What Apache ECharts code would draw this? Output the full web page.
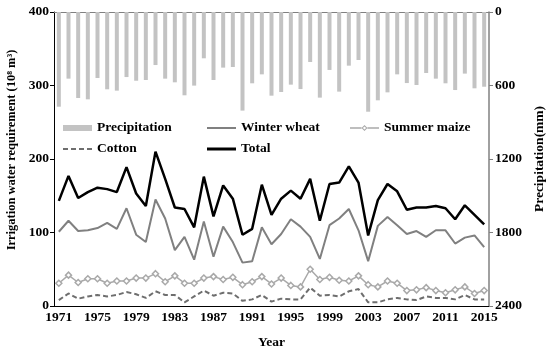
<!DOCTYPE html>
<html>
<head>
<meta charset="utf-8">
<script src="https://cdn.jsdelivr.net/npm/echarts@6/dist/echarts.min.js"></script>
<style>
html,body{margin:0;padding:0;background:#fff;}
#chart{width:550px;height:351px;}
</style>
</head>
<body>
<div id="chart"></div>
<script>
var years = [];
for (var y = 1971; y <= 2015; y++) years.push(String(y));

var precipitation = [773,544,702,713,539,631,642,531,561,555,433,544,574,680,601,378,555,454,449,805,582,509,683,653,593,
  629,408,699,473,650,438,392,814,721,656,509,580,596,498,544,582,637,503,623,610];
var winterWheat = [101,116,102,103,106,113,105,133,97,87,145,119,76,94,63,115,67,108,87,59,61,107,84,98,118,
  108,94,64,110,119,132,103,61,109,121,110,98,102,94,103,103,85,93,96,80];
var summerMaize = [31,42,32,37,37,31,34,34,38,38,44,33,41,31,31,38,40,36,39,29,33,40,30,38,28,
  26,50,36,39,35,34,41,29,26,34,31,21,22,25,21,18,22,26,17,21];
var cotton = [8,17,10,13,15,13,15,19,16,11,20,15,15,5,13,21,14,18,17,7,9,15,6,10,9,
  9,25,14,15,13,20,23,5,5,9,11,9,8,13,11,11,9,15,9,9];
var total = [143,177,147,155,161,159,155,189,153,136,210,173,134,132,107,176,122,164,146,97,105,165,124,146,157,
  146,173,116,166,168,190,168,96,144,166,156,131,134,134,136,133,118,137,124,111];
var leftTicks = [0,100,200,300,400];
var rightTicks = [0,600,1200,1800,2400];

var FONT = '"Liberation Serif", "Times New Roman", serif';
var txt = {fontFamily: FONT, fontWeight: 'bold', fontSize: 13.5, color: '#000'};
var chart = echarts.init(document.getElementById('chart'), null, {renderer: 'canvas'});

var ICON_RECT = 'path://M0,0H29V6H0Z';
var ICON_LINE2 = 'path://M0,0H29V2H0Z';
var ICON_LINE3 = 'path://M0,0H29V3H0Z';
var ICON_DASH = 'path://M0,0H5V2H0Z M8,0H13V2H8Z M16,0H21V2H16Z M24,0H29V2H24Z';
var ICON_MAIZE = 'path://M0,-0.75H11.5V0.75H0Z M17.5,-0.75H29V0.75H17.5Z M14.5,-3L17.5,0L14.5,3L11.5,0Z M14.5,-1.6L12.9,0L14.5,1.6L16.1,0Z';

function leg(name, left, top, icon, color) {
  var item = {name: name, icon: icon};
  if (color) item.itemStyle = {color: color, borderWidth: 0};
  return {
    data: [item], left: left, top: top, itemWidth: 29, itemHeight: 14, itemGap: 0,
    textStyle: txt, padding: 0, selectedMode: false, symbolKeepAspect: true
  };
}

var tickFont = {fontFamily: FONT, fontWeight: 'bold', fontSize: 13.5, color: '#000'};

chart.setOption({
  animation: false,
  backgroundColor: '#fff',
  grid: {left: 54, right: 61, top: 12, bottom: 45, containLabel: false, outerBoundsMode: 'none'},
  legend: [
    leg('Precipitation', 63, 121, ICON_RECT),
    leg('Winter wheat', 207, 121, ICON_LINE2),
    leg('Summer maize', 350, 121, ICON_MAIZE, '#a9a9a9'),
    leg('Cotton', 63, 142, ICON_DASH),
    leg('Total', 207, 142, ICON_LINE3)
  ],
  xAxis: [{
    type: 'category', data: years, boundaryGap: true, position: 'bottom',
    name: 'Year', nameLocation: 'middle', nameGap: 30,
    nameTextStyle: {fontFamily: FONT, fontWeight: 'bold', fontSize: 13.5, color: '#000'},
    axisLine: {lineStyle: {color: '#000', width: 1}},
    axisTick: {interval: 3, length: 4, lineStyle: {color: '#000'}},
    axisLabel: Object.assign({interval: 3, margin: 5}, tickFont)
  }, {
    type: 'category', data: years, position: 'top',
    axisLine: {lineStyle: {color: '#808080', width: 1}},
    axisTick: {show: false}, axisLabel: {show: false}
  }],
  yAxis: [{
    type: 'value', min: 0, max: 400, interval: 100, position: 'left',
    name: 'Irrigation water requirement (10\u2078 m\u00B3)', nameLocation: 'middle', nameGap: 24,
    nameTextStyle: {fontFamily: FONT, fontWeight: 'bold', fontSize: 12.5, color: '#000', padding: [0, 0, 0, 18]},
    axisLine: {show: true, lineStyle: {color: '#000'}},
    axisTick: {show: true, length: 4, lineStyle: {color: '#000'}},
    axisLabel: Object.assign({margin: 5, formatter: function (v) { return String(v); }}, tickFont),
    splitLine: {show: false}
  }, {
    type: 'value', min: 0, max: 2400, interval: 600, inverse: true, position: 'right',
    name: 'Precipitation(mm)', nameLocation: 'middle', nameGap: 43,
    nameTextStyle: {fontFamily: FONT, fontWeight: 'bold', fontSize: 13.5, color: '#000'},
    axisLine: {show: true, lineStyle: {color: '#808080', width: 1.5}},
    axisTick: {show: true, length: 4, lineStyle: {color: '#808080'}},
    axisLabel: Object.assign({margin: 6, formatter: function (v) { return String(v); }}, tickFont),
    splitLine: {show: false}
  }],
  series: [{
    name: 'Precipitation', type: 'bar', xAxisIndex: 0, yAxisIndex: 1, data: precipitation,
    barWidth: 4, itemStyle: {color: '#c3c3c3'}, z: 1
  }, {
    name: 'Winter wheat', type: 'line', yAxisIndex: 0, data: winterWheat, symbol: 'none',
    lineStyle: {color: '#808080', width: 2}, itemStyle: {color: '#808080'}, z: 3
  }, {
    name: 'Summer maize', type: 'line', yAxisIndex: 0, data: summerMaize, symbol: 'diamond', symbolSize: 6,
    lineStyle: {color: '#a9a9a9', width: 1.5},
    itemStyle: {color: '#fff', borderColor: '#a9a9a9', borderWidth: 1.5}, z: 3
  }, {
    name: 'Cotton', type: 'line', yAxisIndex: 0, data: cotton, symbol: 'none',
    lineStyle: {color: '#6e6e6e', width: 2, type: [5, 3]}, itemStyle: {color: '#6e6e6e'}, z: 3
  }, {
    name: 'Total', type: 'line', yAxisIndex: 0, data: total, symbol: 'none',
    lineStyle: {color: '#000', width: 2.5}, itemStyle: {color: '#000'}, z: 4
  }]
});
</script>
</body>
</html>
